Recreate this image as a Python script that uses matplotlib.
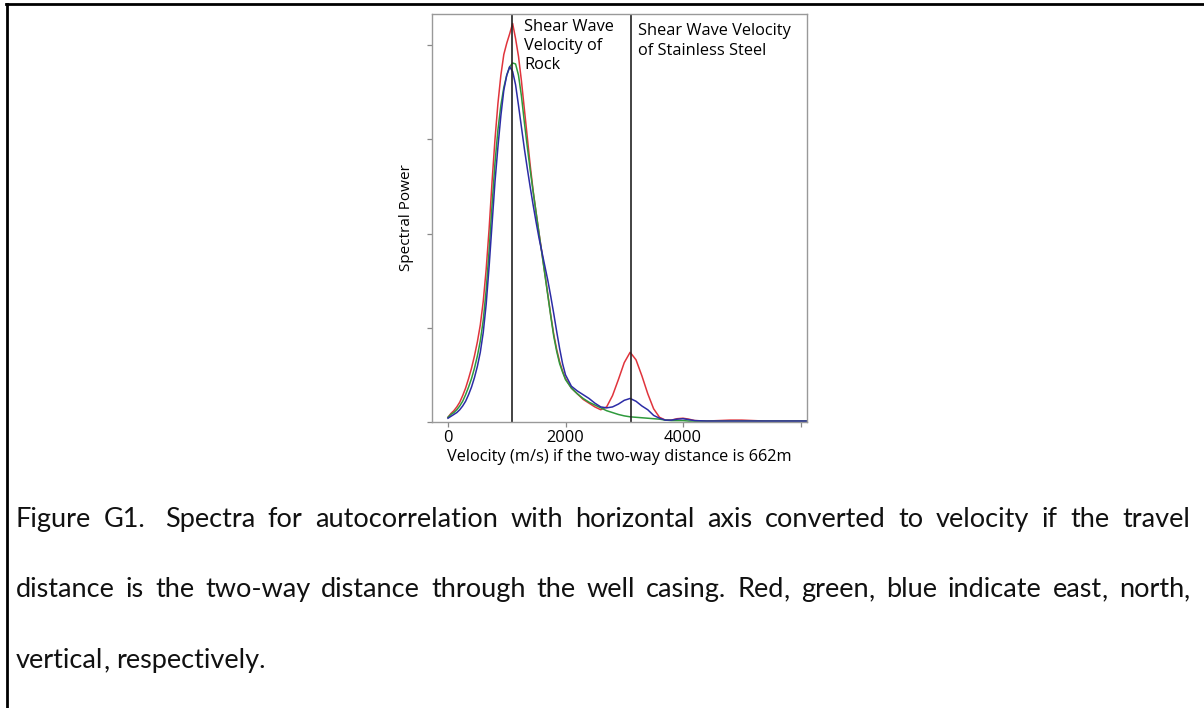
import numpy as np
import matplotlib
matplotlib.use('Agg')
import matplotlib.pyplot as plt
from matplotlib.lines import Line2D

# ── Data ─────────────────────────────────────────────────────────────────────
velocity = [0, 50, 100, 150, 200, 250, 300, 350, 400, 450, 500, 550, 600, 650,
            700, 750, 800, 850, 900, 950, 1000, 1050, 1100, 1150, 1200, 1250,
            1300, 1350, 1400, 1450, 1500, 1550, 1600, 1650, 1700, 1750, 1800,
            1850, 1900, 1950, 2000, 2100, 2200, 2300, 2400, 2500, 2600, 2700,
            2800, 2900, 3000, 3100, 3200, 3300, 3400, 3500, 3600, 3700, 3800,
            3900, 4000, 4100, 4200, 4400, 4600, 4800, 5000, 5200, 5400, 5600,
            5800, 6000, 6100]

power_east = [0.05, 0.09, 0.12, 0.16, 0.21, 0.28, 0.36, 0.46, 0.57, 0.70, 0.85,
              1.03, 1.28, 1.62, 2.05, 2.55, 3.00, 3.38, 3.68, 3.90, 4.02, 4.12,
              4.23, 4.07, 3.88, 3.62, 3.32, 3.02, 2.72, 2.45, 2.22, 2.00, 1.79,
              1.57, 1.35, 1.13, 0.93, 0.77, 0.64, 0.54, 0.46, 0.36, 0.30, 0.24,
              0.20, 0.16, 0.13, 0.16, 0.28, 0.45, 0.63, 0.74, 0.66, 0.49, 0.30,
              0.14, 0.05, 0.02, 0.02, 0.035, 0.04, 0.03, 0.015, 0.01, 0.015,
              0.02, 0.02, 0.015, 0.01, 0.01, 0.01, 0.01, 0.01]

power_north = [0.05, 0.08, 0.10, 0.13, 0.17, 0.22, 0.29, 0.37, 0.46, 0.57, 0.70,
               0.86, 1.08, 1.40, 1.82, 2.30, 2.75, 3.10, 3.36, 3.55, 3.68, 3.77,
               3.81, 3.80, 3.68, 3.46, 3.18, 2.92, 2.67, 2.44, 2.22, 2.00, 1.78,
               1.56, 1.34, 1.12, 0.91, 0.75, 0.62, 0.53, 0.45, 0.36, 0.30, 0.25,
               0.21, 0.18, 0.15, 0.12, 0.10, 0.08, 0.065, 0.055, 0.05, 0.045,
               0.04, 0.035, 0.03, 0.02, 0.015, 0.015, 0.015, 0.01, 0.01, 0.01,
               0.01, 0.01, 0.01, 0.01, 0.01, 0.01, 0.01, 0.01, 0.01]

power_vertical = [0.04, 0.06, 0.08, 0.10, 0.13, 0.17, 0.22, 0.29, 0.37, 0.47,
                  0.59, 0.74, 0.95, 1.25, 1.65, 2.10, 2.55, 2.92, 3.25, 3.52,
                  3.68, 3.77, 3.72, 3.58, 3.36, 3.13, 2.90, 2.69, 2.49, 2.30,
                  2.12, 1.95, 1.80, 1.65, 1.50, 1.33, 1.15, 0.96, 0.78, 0.62,
                  0.50, 0.38, 0.33, 0.29, 0.25, 0.20, 0.16, 0.15, 0.16, 0.19,
                  0.23, 0.25, 0.22, 0.17, 0.13, 0.07, 0.04, 0.02, 0.02, 0.03,
                  0.035, 0.025, 0.015, 0.01, 0.01, 0.01, 0.01, 0.01, 0.01, 0.01,
                  0.01, 0.01, 0.01]

rock_velocity = 1090
steel_velocity = 3110

x_ticks = [0, 2000, 4000, 6000]
x_tick_labels = ['0', '2000', '4000', '']
y_ticks = [0, 1, 2, 3, 4]

caption_lines = [
    ('Figure G1.  Spectra for autocorrelation with horizontal axis converted '
     'to velocity if the travel', True),
    ('distance is the two-way distance through the well casing. Red, green, '
     'blue indicate east, north,', True),
    ('vertical, respectively.', False),
]

# ── Figure ───────────────────────────────────────────────────────────────────
W, H = 1204, 708
fig = plt.figure(figsize=(W / 100, H / 100), dpi=100)
plt.rcParams['font.family'] = ['Open Sans', 'DejaVu Sans']

ax = fig.add_axes([432 / W, 1 - 422 / H, (807 - 432) / W, (422 - 14) / H])

ax.plot(velocity, power_east, color='#e0343c', lw=1.1)
ax.plot(velocity, power_north, color='#2e9a3c', lw=1.1)
ax.plot(velocity, power_vertical, color='#2c2ca6', lw=1.1)

ax.axvline(rock_velocity, color='#222222', lw=1.2)
ax.axvline(steel_velocity, color='#222222', lw=1.2)

ax.set_xlim(-272, 6110)
ax.set_ylim(0, 4.33)
ax.set_xticks(x_ticks)
ax.set_xticklabels(x_tick_labels, fontsize=11.8)
ax.set_yticks(y_ticks)
ax.set_yticklabels([])
ax.tick_params(color='#888888', length=3.5, width=0.9, pad=2.5)
for sp in ax.spines.values():
    sp.set_color('#999999')
    sp.set_linewidth(1.0)

ax.set_xlabel('Velocity (m/s) if the two-way distance is 662m',
              fontsize=11.8, labelpad=2)
ax.set_ylabel('Spectral Power', fontsize=11, labelpad=7)

ax.text(1300, 4.28, 'Shear Wave\nVelocity of\nRock', fontsize=11.8,
        va='top', ha='left', linespacing=1.27)
ax.text(3235, 4.23, 'Shear Wave Velocity\nof Stainless Steel', fontsize=11.8,
        va='top', ha='left', linespacing=1.27)

# ── Page border (top and left edge) ──────────────────────────────────────────
fig.add_artist(Line2D([6 / W, 1], [1 - 4 / H, 1 - 4 / H], color='black',
                      lw=2.0, transform=fig.transFigure))
fig.add_artist(Line2D([7 / W, 7 / W], [0, 1 - 4 / H], color='black',
                      lw=2.0, transform=fig.transFigure))

# ── Justified caption ────────────────────────────────────────────────────────
renderer = fig.canvas.get_renderer()
cap_kw = dict(fontsize=19.5, family=['Lato', 'DejaVu Sans'], color='#111111',
              va='baseline', ha='left')


def text_width(s):
    t = fig.text(0, 0, s, **cap_kw)
    w = t.get_window_extent(renderer).width
    t.remove()
    return w


space_w = text_width('a a') - text_width('aa')

x_left, x_right = 16, 1190
baselines = [527, 597, 668]
for (line, justify), yb in zip(caption_lines, baselines):
    tokens, gaps = [], []
    for w in line.split(' '):
        if w == '':
            gaps[-1] += 1
        else:
            tokens.append(w)
            gaps.append(1)
    gaps = gaps[:-1]
    # a trailing comma is drawn as its own text so the word keeps its baseline
    parts = [(w[:-1], ',') if w.endswith(',') else (w, '') for w in tokens]
    widths = [text_width(a + b) for a, b in parts]
    if justify:
        extra = (x_right - x_left - sum(widths) - space_w * sum(gaps)) / len(gaps)
    else:
        extra = 0
    x = x_left
    for i, (word, punct) in enumerate(parts):
        fig.text(x / W, 1 - yb / H, word, **cap_kw)
        if punct:
            fig.text((x + text_width(word)) / W, 1 - yb / H, punct, **cap_kw)
        if i < len(gaps):
            x += widths[i] + space_w * gaps[i] + extra

fig.savefig('out.png', dpi=100)
